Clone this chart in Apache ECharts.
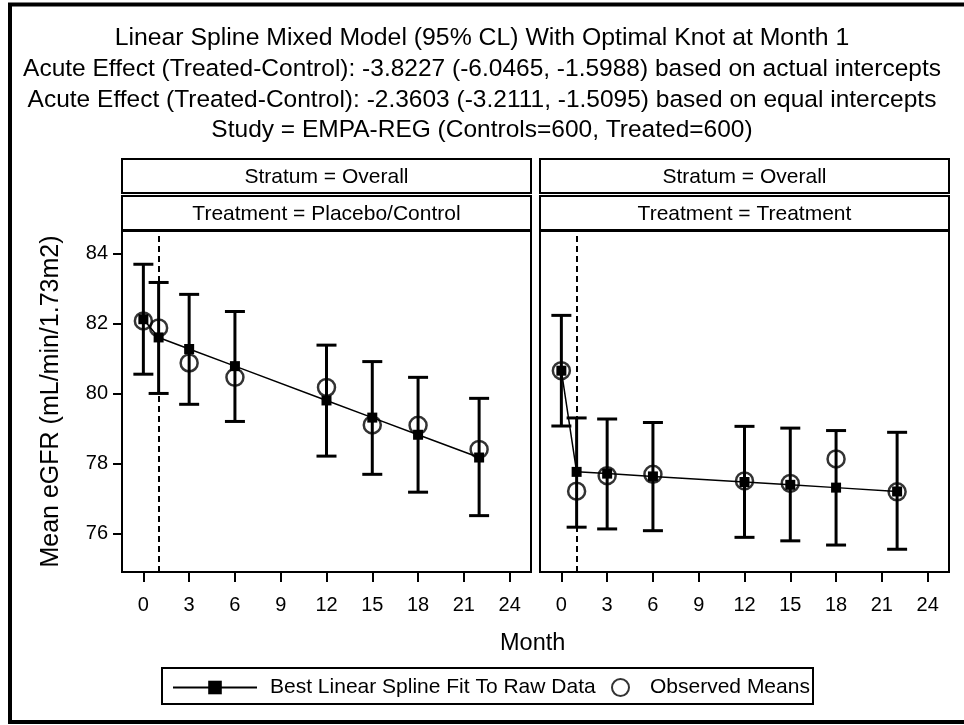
<!DOCTYPE html>
<html>
<head>
<meta charset="utf-8">
<script src="https://cdn.jsdelivr.net/npm/echarts@6/dist/echarts.min.js"></script>
<style>
  html, body { margin: 0; padding: 0; background: #fff; }
  #main { width: 964px; height: 725px; }
</style>
</head>
<body>
<div id="main"></div>
<script>
// months of the visits
var months = [0, 1, 3, 6, 12, 15, 18, 22];
var xTicks = [0, 3, 6, 9, 12, 15, 18, 21, 24];
var yTicks = [76, 78, 80, 82, 84];

// placebo / control
var ctrlFit = [82.12, 81.6, 81.27, 80.78, 79.80, 79.31, 78.82, 78.17];
var ctrlObs = [82.07, 81.87, 80.87, 80.46, 80.17, 79.10, 79.09, 78.40];
var ctrlLower = [80.55, 80.0, 79.69, 79.20, 78.21, 77.69, 77.18, 76.51];
var ctrlUpper = [83.69, 83.17, 82.83, 82.34, 81.38, 80.91, 80.46, 79.86];

// treatment
var trtFit = [80.65, 77.76, 77.71, 77.63, 77.47, 77.39, 77.31, 77.20];
var trtObs = [80.65, 77.21, 77.65, 77.69, 77.50, 77.43, 78.13, 77.19];
var trtLower = [79.07, 76.18, 76.13, 76.08, 75.89, 75.79, 75.67, 75.55];
var trtUpper = [82.23, 79.30, 79.27, 79.17, 79.06, 79.01, 78.94, 78.89];

var knot = 1;
var FONT = 'Liberation Sans';

function zip(a, b) {
  return a.map(function (v, i) { return [v, b[i]]; });
}

function errorBars(idx, lower, upper) {
  return {
    type: 'custom',
    xAxisIndex: idx,
    yAxisIndex: idx,
    z: 2,
    silent: true,
    data: months.map(function (m, i) { return [m, lower[i], upper[i]]; }),
    renderItem: function (params, api) {
      var lo = api.coord([api.value(0), api.value(1)]);
      var hi = api.coord([api.value(0), api.value(2)]);
      var w = 10;
      var st = { stroke: '#000', lineWidth: 3 };
      return {
        type: 'group',
        children: [
          { type: 'line', shape: { x1: lo[0], y1: lo[1], x2: hi[0], y2: hi[1] }, style: st },
          { type: 'line', shape: { x1: lo[0] - w, y1: lo[1], x2: lo[0] + w, y2: lo[1] }, style: st },
          { type: 'line', shape: { x1: hi[0] - w, y1: hi[1], x2: hi[0] + w, y2: hi[1] }, style: st }
        ]
      };
    }
  };
}

function fitLine(idx, fit) {
  return {
    name: 'Best Linear Spline Fit To Raw Data',
    type: 'line',
    xAxisIndex: idx,
    yAxisIndex: idx,
    z: 3,
    data: zip(months, fit),
    symbol: 'rect',
    symbolSize: 10,
    showAllSymbol: true,
    lineStyle: { color: '#000', width: 1.5 },
    itemStyle: { color: '#000' },
    markLine: {
      silent: true,
      symbol: 'none',
      label: { show: false },
      lineStyle: { color: '#000', width: 2, type: [6, 4] },
      data: [{ xAxis: knot }]
    }
  };
}

function obsPoints(idx, obs) {
  return {
    name: 'Observed Means',
    type: 'scatter',
    xAxisIndex: idx,
    yAxisIndex: idx,
    z: 4,
    data: zip(months, obs),
    symbol: 'circle',
    symbolSize: 17,
    itemStyle: { color: 'rgba(0,0,0,0)', borderColor: '#000', borderWidth: 2.5 }
  };
}

function xAxisFor(idx) {
  return {
    type: 'value',
    gridIndex: idx,
    min: -1.4,
    max: 25.4,
    splitLine: { show: false },
    axisLine: { show: true, onZero: false, lineStyle: { color: '#000', width: 2 } },
    axisTick: { show: true, length: 10, lineStyle: { color: '#000', width: 2 }, customValues: xTicks },
    axisLabel: { color: '#000', fontSize: 20, fontFamily: FONT, margin: 23, customValues: xTicks }
  };
}

function yAxisFor(idx) {
  var showLab = idx === 0;
  return {
    type: 'value',
    gridIndex: idx,
    min: 74.9,
    max: 84.64,
    splitLine: { show: false },
    name: showLab ? 'Mean eGFR (mL/min/1.73m2)' : '',
    nameLocation: 'middle',
    nameGap: 58,
    nameTextStyle: { color: '#000', fontSize: 25, fontFamily: FONT },
    axisLine: { show: true, onZero: false, lineStyle: { color: '#000', width: 2 } },
    axisTick: { show: showLab, length: 9, lineStyle: { color: '#000', width: 2 }, customValues: yTicks },
    axisLabel: { show: showLab, color: '#000', fontSize: 20, fontFamily: FONT, margin: 14, customValues: yTicks }
  };
}

function strip(x, y, w, h, txt) {
  return {
    type: 'group',
    children: [
      { type: 'rect', shape: { x: x, y: y, width: w, height: h }, style: { fill: '#fff', stroke: '#000', lineWidth: 2 } },
      { type: 'text', x: x + w / 2, y: y + h / 2 + 1.5, style: { text: txt, fill: '#000', font: '21px ' + FONT, align: 'center', verticalAlign: 'middle' } }
    ]
  };
}

var titleStyle = { color: '#000', fontWeight: 'normal', fontFamily: FONT, fontSize: 24.5 };

var chart = echarts.init(document.getElementById('main'));
chart.setOption({
  backgroundColor: '#fff',
  animation: false,
  title: [
    { text: 'Linear Spline Mixed Model (95% CL) With Optimal Knot at Month 1', left: 'center', top: 26, padding: 0, textStyle: Object.assign({}, titleStyle, { fontSize: 24.8 }) },
    { text: 'Acute Effect (Treated-Control): -3.8227 (-6.0465, -1.5988) based on actual intercepts', left: 'center', top: 57, padding: 0, textStyle: titleStyle },
    { text: 'Acute Effect (Treated-Control): -2.3603 (-3.2111, -1.5095) based on equal intercepts', left: 'center', top: 87.5, padding: 0, textStyle: titleStyle },
    { text: 'Study = EMPA-REG (Controls=600, Treated=600)', left: 'center', top: 118, padding: 0, textStyle: titleStyle },
    { text: 'Month', left: 500, top: 632, padding: 0, textStyle: Object.assign({}, titleStyle, { fontSize: 23.5 }) }
  ],
  legend: [
    {
      left: 172, top: 677, padding: 0,
      itemWidth: 84, itemHeight: 17,
      data: ['Best Linear Spline Fit To Raw Data'],
      selectedMode: false,
      textStyle: { color: '#000', fontSize: 21, fontFamily: FONT, padding: [0, 0, 0, 8] }
    },
    {
      left: 611, top: 677, padding: 0,
      itemWidth: 17, itemHeight: 17,
      data: [{ name: 'Observed Means', itemStyle: { color: 'rgba(0,0,0,0)', borderColor: '#000', borderWidth: 2 } }],
      selectedMode: false,
      textStyle: { color: '#000', fontSize: 21, fontFamily: FONT, padding: [0, 0, 0, 16] }
    }
  ],
  grid: [
    { left: 122, top: 231, width: 409, height: 341, show: true, borderColor: '#000', borderWidth: 2, backgroundColor: '#fff' },
    { left: 540, top: 231, width: 409, height: 341, show: true, borderColor: '#000', borderWidth: 2, backgroundColor: '#fff' }
  ],
  xAxis: [xAxisFor(0), xAxisFor(1)],
  yAxis: [yAxisFor(0), yAxisFor(1)],
  series: [
    errorBars(0, ctrlLower, ctrlUpper),
    fitLine(0, ctrlFit),
    obsPoints(0, ctrlObs),
    errorBars(1, trtLower, trtUpper),
    fitLine(1, trtFit),
    obsPoints(1, trtObs)
  ],
  graphic: [
    { type: 'rect', shape: { x: 10, y: 4.5, width: 980, height: 717.5 }, style: { fill: 'none', stroke: '#000', lineWidth: 4 }, z: 100 },
    strip(122, 159, 409, 34, 'Stratum = Overall'),
    strip(122, 196, 409, 34, 'Treatment = Placebo/Control'),
    strip(540, 159, 409, 34, 'Stratum = Overall'),
    strip(540, 196, 409, 34, 'Treatment = Treatment'),
    { type: 'rect', shape: { x: 162, y: 668, width: 651, height: 36 }, style: { fill: 'none', stroke: '#000', lineWidth: 2 } }
  ]
});
</script>
</body>
</html>
